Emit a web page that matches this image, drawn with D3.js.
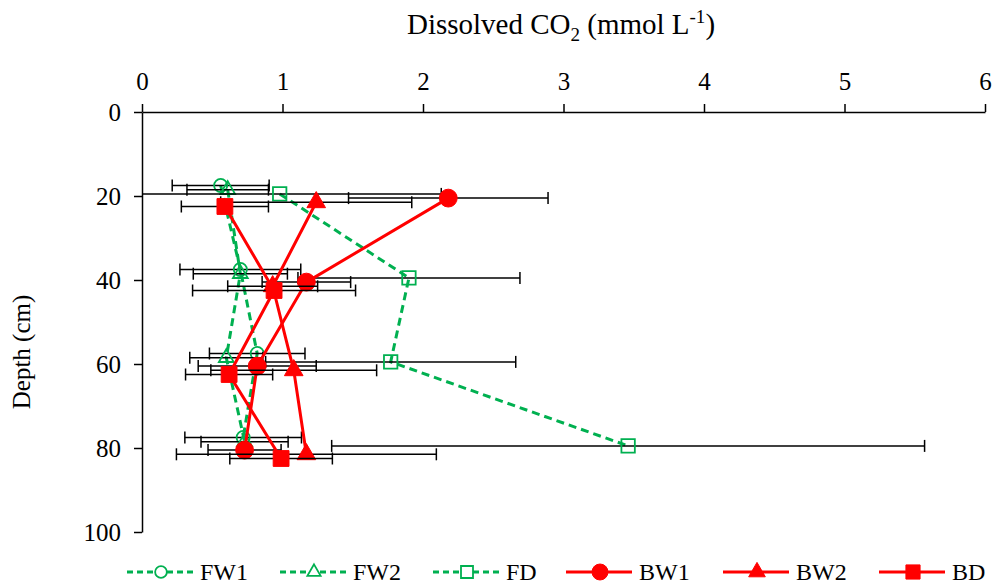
<!DOCTYPE html>
<meta charset="utf-8">
<style>
body {
  margin: 0;
  background: #fff;
}
text {
  font-family: "Liberation Serif", "Times New Roman", serif;
  fill: #000;
}
.axis path, .axis line {
  stroke: #000;
  stroke-width: 1.5;
}
</style>
<body>
<script src="https://cdn.jsdelivr.net/npm/d3@7/dist/d3.min.js"></script>
<script>

var width = 994,
    height = 585;

// series names and tick values
var names = ["FW1", "FW2", "FD", "BW1", "BW2", "BD"];
var xTicks = [0, 1, 2, 3, 4, 5, 6];
var yTicks = [0, 20, 40, 60, 80, 100];

// depths (cm), slightly staggered per series as in the figure
var depthFW1 = [17.5, 37.5, 57.5, 77.5];
var depthFW2 = [18.5, 38.5, 58.5, 78.5];
var depthFD  = [19.5, 39.5, 59.5, 79.5];
var depthBW1 = [20.5, 40.5, 60.5, 80.5];
var depthBW2 = [21.5, 41.5, 61.5, 81.5];
var depthBD  = [22.5, 42.5, 62.5, 82.5];

// dissolved CO2 (mmol/L)
var co2FW1 = [0.56, 0.70, 0.82, 0.72];
var co2FW2 = [0.61, 0.70, 0.60, 0.73];
var co2FD  = [0.98, 1.90, 1.77, 3.46];
var co2BW1 = [2.18, 1.17, 0.82, 0.73];
var co2BW2 = [1.24, 0.93, 1.08, 1.17];
var co2BD  = [0.59, 0.94, 0.62, 0.99];

// error (+/-)
var errFW1 = [0.345, 0.43, 0.34, 0.415];
var errFW2 = [0.29, 0.335, 0.26, 0.31];
var errFD  = [1.15, 0.79, 0.89, 2.11];
var errBW1 = [0.71, 0.315, 0.42, 0.26];
var errBW2 = [0.68, 0.32, 0.59, 0.925];
var errBD  = [0.31, 0.58, 0.31, 0.365];

var green = "#00b050",
    red = "#ff0000";

function pts(depth, co2, err) {
  return depth.map(function(d, i) { return {depth: d, co2: co2[i], err: err[i]}; });
}

var series = [
  {name: names[0], data: pts(depthFW1, co2FW1, errFW1), color: green, dashed: true, shape: "circle", fill: false},
  {name: names[1], data: pts(depthFW2, co2FW2, errFW2), color: green, dashed: true, shape: "triangle", fill: false},
  {name: names[2], data: pts(depthFD, co2FD, errFD), color: green, dashed: true, shape: "square", fill: false},
  {name: names[3], data: pts(depthBW1, co2BW1, errBW1), color: red, dashed: false, shape: "circle", fill: true},
  {name: names[4], data: pts(depthBW2, co2BW2, errBW2), color: red, dashed: false, shape: "triangle", fill: true},
  {name: names[5], data: pts(depthBD, co2BD, errBD), color: red, dashed: false, shape: "square", fill: true}
];

var x = d3.scaleLinear().domain([0, 6]).range([142, 985]);
var y = d3.scaleLinear().domain([0, 100]).range([112, 532]);

var svg = d3.select("body").append("svg")
    .attr("width", width)
    .attr("height", height);

// axes
svg.append("g")
    .attr("class", "axis")
    .attr("transform", "translate(0," + y(0) + ")")
    .call(d3.axisTop(x).tickValues(xTicks).tickFormat(d3.format("d"))
      .tickSize(8).tickSizeOuter(0).tickPadding(14));

svg.append("g")
    .attr("class", "axis")
    .attr("transform", "translate(" + x(0) + ",0)")
    .call(d3.axisLeft(y).tickValues(yTicks).tickSize(8).tickSizeOuter(0).tickPadding(13));

svg.selectAll(".axis").attr("font-family", null).attr("font-size", null);
svg.selectAll(".axis text")
    .style("font-family", "'Liberation Serif', serif")
    .style("font-size", "25px");

// title
var title = svg.append("text")
    .attr("x", 561)
    .attr("y", 34)
    .attr("text-anchor", "middle")
    .style("font-size", "29px");
title.append("tspan").text("Dissolved CO");
title.append("tspan").attr("dy", 7).style("font-size", "19px").text("2");
title.append("tspan").attr("dy", -7).text(" (mmol L");
title.append("tspan").attr("dy", -11).style("font-size", "19px").text("-1");
title.append("tspan").attr("dy", 11).text(")");

svg.append("text")
    .attr("transform", "translate(30,352)rotate(-90)")
    .attr("text-anchor", "middle")
    .style("font-size", "25px")
    .text("Depth (cm)");

function symbolFor(s, legend) {
  var big = s.fill;
  var size;
  if (s.shape === "circle") size = big ? 250 : 135;
  else if (s.shape === "square") size = big ? 250 : 180;
  else size = big ? 150 : 95;
  if (legend) size = size * 0.8;
  var type = s.shape === "circle" ? d3.symbolCircle : s.shape === "square" ? d3.symbolSquare : d3.symbolTriangle;
  return d3.symbol().type(type).size(size)();
}

var line = d3.line()
    .x(function(d) { return x(d.co2); })
    .y(function(d) { return y(d.depth); });

series.forEach(function(s) {
  var g = svg.append("g");

  g.append("path")
      .datum(s.data)
      .attr("d", line)
      .attr("fill", "none")
      .attr("stroke", s.color)
      .attr("stroke-width", 3)
      .attr("stroke-dasharray", s.dashed ? "8,5" : null);

  // error bars
  var eb = g.selectAll(".eb")
      .data(s.data)
    .enter().append("g");

  eb.append("line")
      .attr("x1", function(d) { return x(Math.max(0, d.co2 - d.err)); })
      .attr("x2", function(d) { return x(d.co2 + d.err); })
      .attr("y1", function(d) { return y(d.depth); })
      .attr("y2", function(d) { return y(d.depth); })
      .attr("stroke", "#000")
      .attr("stroke-width", 1.5);

  eb.filter(function(d) { return d.co2 - d.err > 0; }).append("line")
      .attr("x1", function(d) { return x(d.co2 - d.err); })
      .attr("x2", function(d) { return x(d.co2 - d.err); })
      .attr("y1", function(d) { return y(d.depth) - 6; })
      .attr("y2", function(d) { return y(d.depth) + 6; })
      .attr("stroke", "#000")
      .attr("stroke-width", 1.5);

  eb.append("line")
      .attr("x1", function(d) { return x(d.co2 + d.err); })
      .attr("x2", function(d) { return x(d.co2 + d.err); })
      .attr("y1", function(d) { return y(d.depth) - 6; })
      .attr("y2", function(d) { return y(d.depth) + 6; })
      .attr("stroke", "#000")
      .attr("stroke-width", 1.5);

  g.selectAll(".mk")
      .data(s.data)
    .enter().append("path")
      .attr("d", symbolFor(s))
      .attr("transform", function(d) { return "translate(" + x(d.co2) + "," + y(d.depth) + ")"; })
      .attr("fill", s.fill ? s.color : "none")
      .attr("stroke", s.color)
      .attr("stroke-width", s.fill ? 1 : 1.8);
});

// legend
var legendX = [127, 280, 433, 566, 723, 879];
var legend = svg.selectAll(".legend")
    .data(series)
  .enter().append("g")
    .attr("transform", function(d, i) { return "translate(" + legendX[i] + ",572)"; });

legend.append("line")
    .attr("x1", 0)
    .attr("x2", 66)
    .attr("stroke", function(d) { return d.color; })
    .attr("stroke-width", 3)
    .attr("stroke-dasharray", function(d) { return d.dashed ? "6,4" : null; });

legend.append("path")
    .attr("d", function(d) { return symbolFor(d, true); })
    .attr("transform", "translate(34,0)")
    .attr("fill", function(d) { return d.fill ? d.color : "#fff"; })
    .attr("stroke", function(d) { return d.color; })
    .attr("stroke-width", function(d) { return d.fill ? 1 : 1.8; });

legend.append("text")
    .attr("x", 73)
    .attr("dy", "0.35em")
    .style("font-size", "24px")
    .text(function(d) { return d.name; });

</script>
